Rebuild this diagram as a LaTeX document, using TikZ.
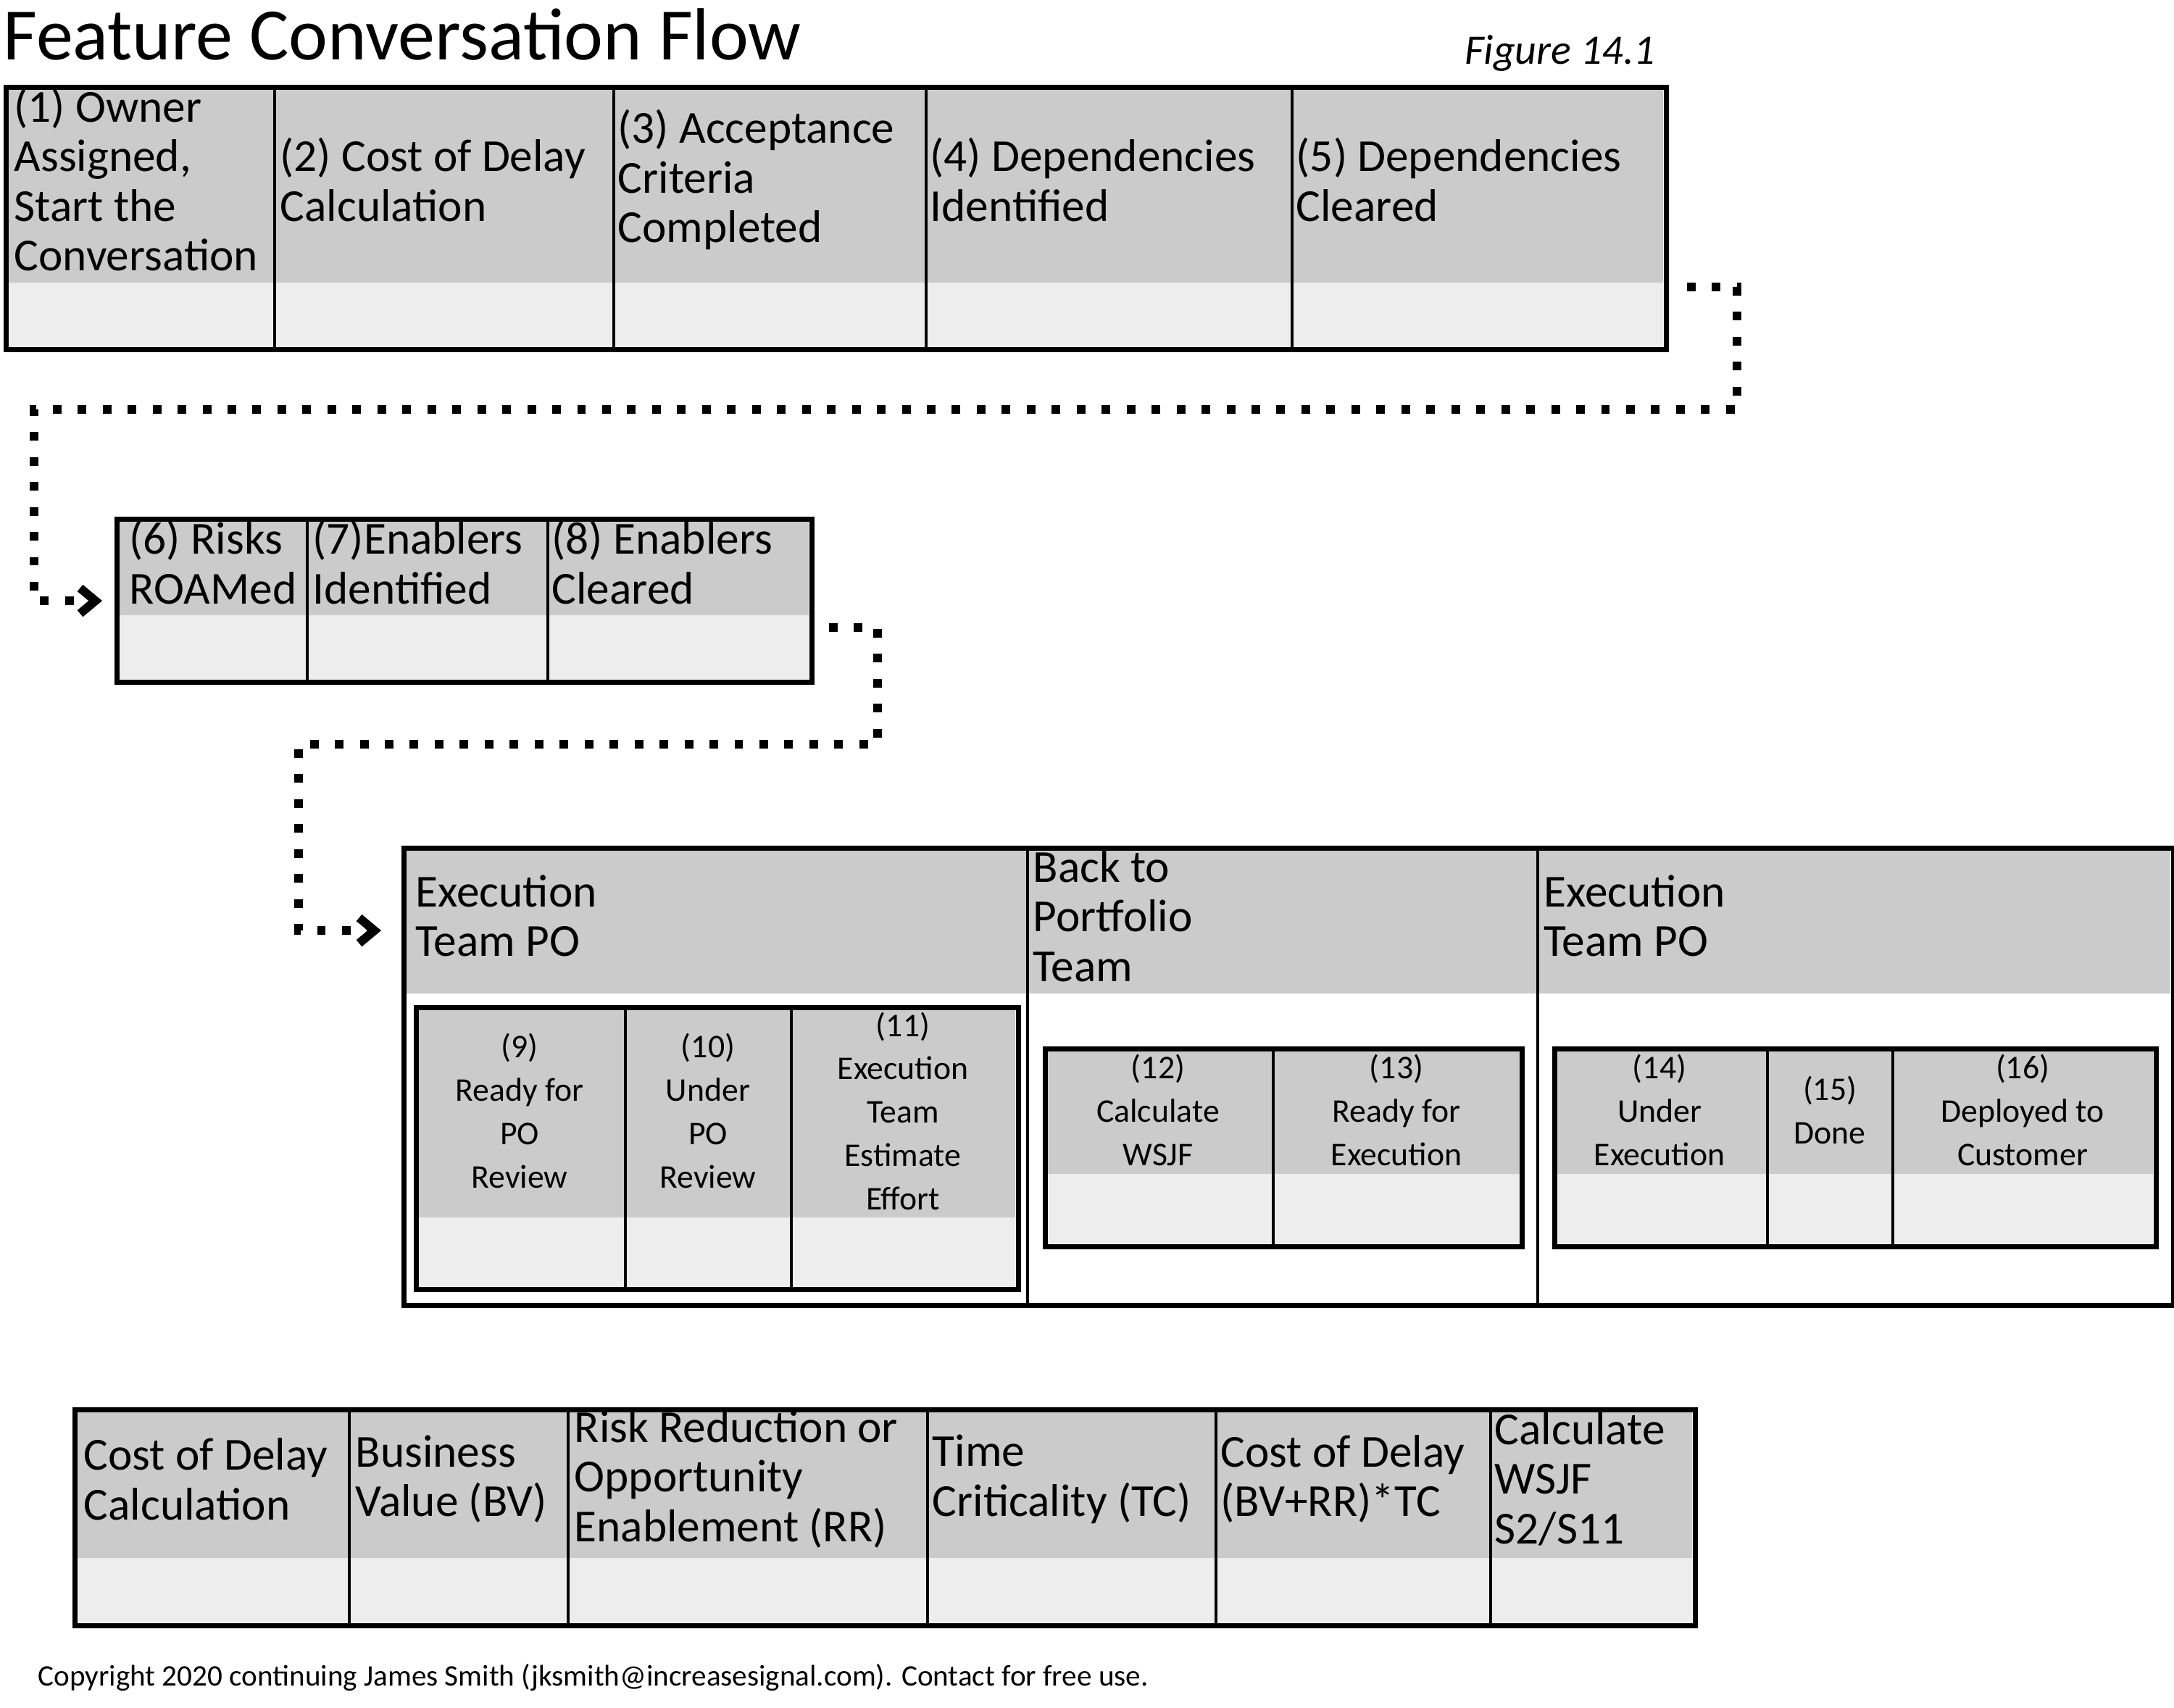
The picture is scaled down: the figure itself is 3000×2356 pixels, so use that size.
\documentclass[tikz,border=0pt]{standalone}
\usepackage{fontspec}
\setmainfont{Carlito}
\usetikzlibrary{arrows.meta}

\definecolor{hdrgray}{HTML}{CBCBCB}
\definecolor{lowgray}{HTML}{EDEDED}

\begin{document}
\begin{tikzpicture}[x=0.01cm, y=-0.01cm]
\tikzstyle{every node}+=[inner sep=0pt]
\tikzstyle{bigtxt}=[anchor=west, align=left, yshift=0.05cm, font=\fontsize{18}{19.5}\selectfont]
\tikzstyle{smalltxt}=[anchor=center, align=center, font=\fontsize{13}{17}\selectfont]
\tikzstyle{frame}=[draw, line width=2pt, anchor=north west]
\tikzstyle{sep}=[line width=1.1pt]
\tikzstyle{flow}=[line width=3.4pt, dash pattern=on 3.4pt off 6.4pt, -{Straight Barb[length=6pt,width=10pt]}]
\useasboundingbox (0,0) rectangle (3000,2356);
% title
\node [anchor=base west, font=\fontsize{29}{32}\selectfont] (title) at (4,82) {Feature Conversation Flow};
\node [anchor=base east, font=\fontsize{16.5}{18}\selectfont\itshape] (fig) at (2285,88) {Figure 14.1};
% first row
\fill [hdrgray] (5,117) rectangle (2295,390);
\fill [lowgray] (5,390) rectangle (2295,479);
\foreach \x in {379,847,1278,1783} \draw [sep] (\x,117) -- (\x,479);
\node [frame, minimum width=22.90cm, minimum height=3.62cm] (row1) at (5,117) {};
\node [bigtxt] (s1) at (19,253) {(1) Owner\\Assigned,\\Start the\\Conversation};
\node [bigtxt] (s2) at (386,253) {(2) Cost of Delay\\Calculation};
\node [bigtxt] (s3) at (852,253) {(3) Acceptance\\Criteria\\Completed};
\node [bigtxt] (s4) at (1283,253) {(4) Dependencies\\Identified};
\node [bigtxt] (s5) at (1788,253) {(5) Dependencies\\Cleared};
% second row
\fill [hdrgray] (158,713) rectangle (1116,849);
\fill [lowgray] (158,849) rectangle (1116,938);
\foreach \x in {424,756} \draw [sep] (\x,713) -- (\x,938);
\node [frame, minimum width=9.58cm, minimum height=2.25cm] (row2) at (158,713) {};
\node [bigtxt] (s6) at (178,781) {(6) Risks\\ROAMed};
\node [bigtxt] (s7) at (431,781) {(7)Enablers\\Identified};
\node [bigtxt] (s8) at (761,781) {(8) Enablers\\Cleared};
% execution block
\fill [hdrgray] (554,1167) rectangle (2995,1371);
\foreach \x in {1418,2122} \draw [sep] (\x,1167) -- (\x,1798);
\node [frame, minimum width=24.41cm, minimum height=6.31cm] (exec) at (554,1167) {};
\node [bigtxt] (h1) at (573,1269) {Execution\\Team PO};
\node [bigtxt] (h2) at (1425,1269) {Back to\\Portfolio\\Team};
\node [bigtxt] (h3) at (2130,1269) {Execution\\Team PO};
% inner boxes
\fill [hdrgray] (571,1387) rectangle (1401,1680);
\fill [lowgray] (571,1680) rectangle (1401,1776);
\foreach \x in {863,1092} \draw [sep] (\x,1387) -- (\x,1776);
\node [frame, minimum width=8.30cm, minimum height=3.89cm] (boxA) at (571,1387) {};
\node [smalltxt] (c9) at (717,1533) {(9)\\Ready for\\PO\\Review};
\node [smalltxt] (c10) at (977,1533) {(10)\\Under\\PO\\Review};
\node [smalltxt] (c11) at (1246,1533) {(11)\\Execution\\Team\\Estimate\\Effort};
\fill [hdrgray] (1439,1444) rectangle (2097,1620);
\fill [lowgray] (1439,1620) rectangle (2097,1717);
\draw [sep] (1757,1444) -- (1757,1717);
\node [frame, minimum width=6.58cm, minimum height=2.73cm] (boxB) at (1439,1444) {};
\node [smalltxt] (c12) at (1598,1532) {(12)\\Calculate\\WSJF};
\node [smalltxt] (c13) at (1927,1532) {(13)\\Ready for\\Execution};
\fill [hdrgray] (2142,1444) rectangle (2971,1620);
\fill [lowgray] (2142,1620) rectangle (2971,1717);
\foreach \x in {2439,2612} \draw [sep] (\x,1444) -- (\x,1717);
\node [frame, minimum width=8.29cm, minimum height=2.73cm] (boxC) at (2142,1444) {};
\node [smalltxt] (c14) at (2290,1532) {(14)\\Under\\Execution};
\node [smalltxt] (c15) at (2525,1532) {(15)\\Done};
\node [smalltxt] (c16) at (2791,1532) {(16)\\Deployed to\\Customer};
% cost of delay table
\fill [hdrgray] (100,1942) rectangle (2335,2150);
\fill [lowgray] (100,2150) rectangle (2335,2240);
\foreach \x in {482,784,1280,1678,2057} \draw [sep] (\x,1942) -- (\x,2240);
\node [frame, minimum width=22.35cm, minimum height=2.98cm] (cod) at (100,1942) {};
\node [bigtxt] (k1) at (115,2046) {Cost of Delay\\Calculation};
\node [bigtxt] (k2) at (490,2046) {Business\\Value (BV)};
\node [bigtxt] (k3) at (792,2046) {Risk Reduction or\\Opportunity\\Enablement (RR)};
\node [bigtxt] (k4) at (1286,2046) {Time\\Criticality (TC)};
\node [bigtxt] (k5) at (1684,2046) {Cost of Delay\\(BV+RR)*TC};
\node [bigtxt] (k6) at (2062,2046) {Calculate\\WSJF\\S2/S11};
% connectors
\coordinate (out1) at (2328,396);
\coordinate (b1) at (2397,565);
\coordinate (b2) at (47,565);
\draw [flow] (out1) -| (b1) -- (b2) |- ([xshift=-0.17cm]row2.west);
\coordinate (out2) at (1144,866);
\coordinate (b3) at (1211,1027);
\coordinate (b4) at (412,1027);
\draw [flow] (out2) -| (b3) -- (b4) |- ([shift={(-0.28cm,-1.17cm)}]exec.north west);
\node [anchor=base west, font=\fontsize{11.7}{14}\selectfont] (copy) at (52,2326) {Copyright 2020 continuing James Smith (jksmith@increasesignal.com). Contact for free use.};
\end{tikzpicture}
\end{document}
